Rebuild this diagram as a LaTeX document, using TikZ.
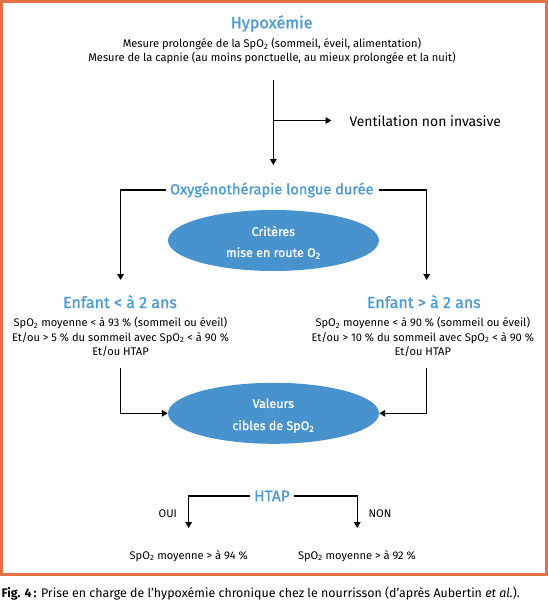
\documentclass[tikz,border=0pt]{standalone}
\usepackage{fontspec}
\setmainfont{Fira Sans}
\newfontfamily\medf{Fira Sans}[FakeBold=1.2]
\usetikzlibrary{arrows.meta,shapes.geometric}
\definecolor{hblue}{RGB}{74,154,214}
\definecolor{eblue}{RGB}{72,146,206}
\definecolor{frameor}{RGB}{232,112,70}
\newcommand\stwo{\textsubscript{2}}
\begin{document}
\begin{tikzpicture}[x=1pt,y=-1pt,
  head/.style={text=hblue,font=\medf\fontsize{14.6}{17}\selectfont,inner sep=0pt},
  body/.style={font=\fontsize{11.1}{14.2}\selectfont,align=center,inner sep=0pt},
  conn/.style={line width=1.4pt,-{Triangle[length=6pt,width=6.5pt]}},
  bubble/.style={ellipse,fill=eblue,minimum width=211pt,minimum height=61pt,inner sep=0pt},
  btext/.style={text=white,font=\medf\fontsize{12.5}{15}\selectfont,inner sep=0pt}]
\useasboundingbox (0,0) rectangle (548,600);
\draw[frameor,line width=3pt] (1.5,1.5) rectangle (546.5,574);

% top
\node[head,font=\medf\fontsize{16.2}{19}\selectfont] (hyp) at (271.7,23.5) {Hypoxémie};
\node[body] (m1) at (272,44.3) {Mesure prolongée de la SpO\stwo{} (sommeil, éveil, alimentation)};
\node[body] (m2) at (272,58.3) {Mesure de la capnie (au moins ponctuelle, au mieux prolongée et la nuit)};

\coordinate (v0) at (273.3,80);
\coordinate (vb) at (273.3,120.5);
\coordinate (v1) at (273.3,165);
\coordinate (vt) at (331.5,120.5);
\draw[conn] (v0) -- (v1);
\draw[conn] (vb) -- (vt);
\node[anchor=west,inner sep=0pt,font=\fontsize{13.9}{16}\selectfont] (vni) at (349.3,121) {Ventilation non invasive};

% oxygen
\node[head] (oxy) at (271.8,190) {Oxygénothérapie longue durée};
\coordinate (a1) at (120.5,280);
\coordinate (a2) at (426.7,280);
\draw[conn] ([xshift=-4pt]oxy.west) -| (a1);
\draw[conn] ([xshift=5pt]oxy.east) -| (a2);

\node[bubble] (crit) at (273.5,240.5) {};
\node[btext] (critA) at (273.3,231) {Critères};
\node[btext] (critB) at (273.3,253) {mise en route O\stwo};

% children
\node[head,font=\medf\fontsize{16}{19}\selectfont] (enf1) at (120,301.7) {Enfant < à 2 ans};
\node[head,font=\medf\fontsize{16}{19}\selectfont] (enf2) at (423.8,301.7) {Enfant > à 2 ans};
\node[body] (c1) at (120.5,337) {SpO\stwo{} moyenne < à 93 \% (sommeil ou éveil)\\Et/ou > 5 \% du sommeil avec SpO\stwo{} < à 90 \%\\Et/ou HTAP};
\node[body] (c2) at (422.8,337) {SpO\stwo{} moyenne < à 90 \% (sommeil ou éveil)\\Et/ou > 10 \% du sommeil avec SpO\stwo{} < à 90 \%\\Et/ou HTAP};

\node[bubble] (val) at (273.5,413.3) {};
\node[btext] (valA) at (273.3,403.3) {Valeurs};
\node[btext] (valB) at (273.3,426.5) {cibles de SpO\stwo};

\coordinate (b1) at (120.5,368);
\coordinate (b2) at (426.7,368);
\draw[conn] (b1) |- (val.west);
\draw[conn] (b2) |- (val.east);

% HTAP
\node[head,font=\medf\fontsize{15.5}{18}\selectfont] (htap) at (271.9,496) {HTAP};
\coordinate (o1) at (188.7,528);
\coordinate (o2) at (357.2,528);
\draw[conn] ([xshift=-4pt]htap.west) -| (o1);
\draw[conn] ([xshift=4pt]htap.east) -| (o2);
\node[body] (oui) at (167.8,514) {OUI};
\node[body] (non) at (380,514) {NON};
\node[body] (r1) at (188.8,556) {SpO\stwo{} moyenne > à 94 \%};
\node[body] (r2) at (356.9,556) {SpO\stwo{} moyenne > à 92 \%};

% caption
\node[anchor=west,inner sep=0pt,font=\fontsize{12.4}{14}\selectfont] (cap) at (1.5,594) {\textbf{Fig. 4\,:} Prise en charge de l’hypoxémie chronique chez le nourrisson (d’après Aubertin \textit{et al.}).};
\end{tikzpicture}
\end{document}
